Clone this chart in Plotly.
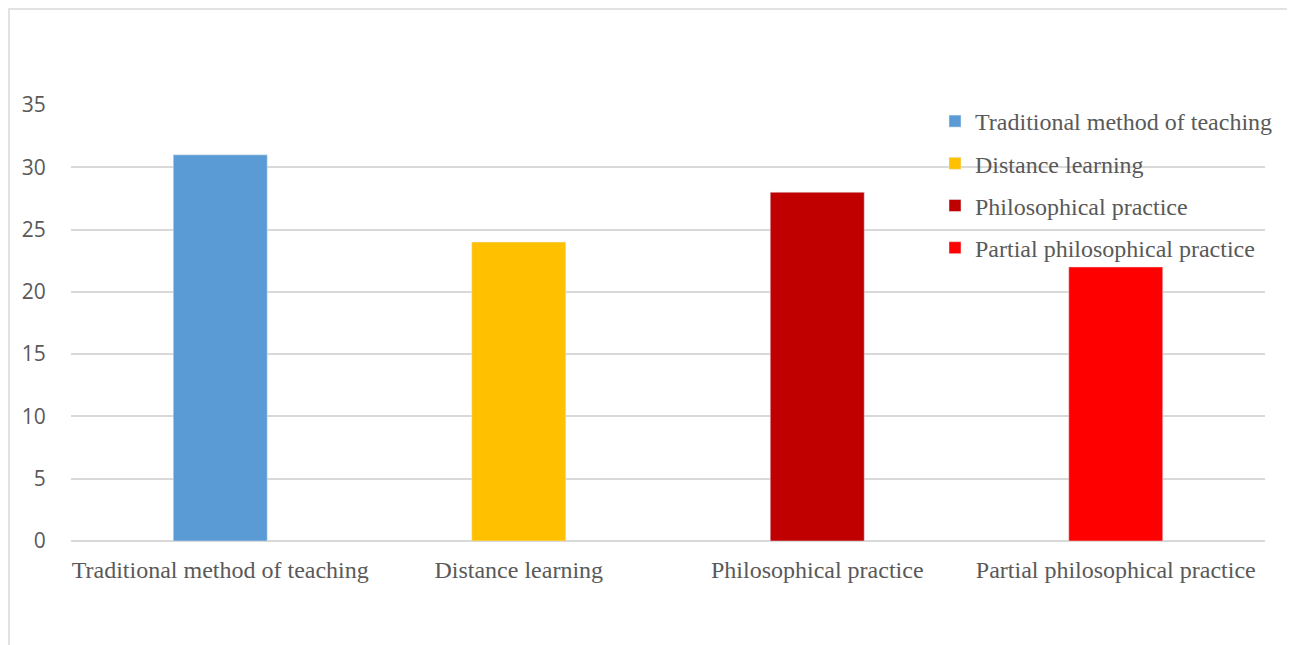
import plotly.graph_objects as go

categories = ["Traditional method of teaching", "Distance learning",
              "Philosophical practice", "Partial philosophical practice"]
values = [31, 24, 28, 22]
colors = ["#5B9BD5", "#FFC000", "#C00000", "#FF0000"]
y_ticks = [0, 5, 10, 15, 20, 25, 30, 35]

# the page places the figure at an 8px offset; work in screen pixels
OFF = 8
W, H = 1295, 645
SL, SR, ST, SB = 71, 1265, 105, 541   # plot area in screen pixels
L = SL - OFF
T = ST - OFF
R = W - (SR - OFF)
B = H - (SB - OFF)
pw = SR - SL
ph = SB - ST

def sx(px):
    return (px - SL) / pw

def sy(py):
    return 1 - (py - ST) / ph

fig = go.Figure()
for cat, val, col in zip(categories, values, colors):
    fig.add_trace(go.Bar(
        x=[cat], y=[val], name=cat, marker_color=col, width=0.315,
        legendgroup=cat, hoverinfo="x+y",
    ))

serif = "Liberation Serif, Times New Roman, serif"

fig.update_layout(
    width=W, height=H,
    margin=dict(l=L, r=R, t=T, b=B),
    barmode="overlay",
    plot_bgcolor="white", paper_bgcolor="white",
    font=dict(family=serif, size=24, color="#595959"),
    showlegend=True,
    legend=dict(
        x=sx(935), y=sy(99), xanchor="left", yanchor="top",
        bgcolor="rgba(0,0,0,0)", tracegroupgap=8,
        font=dict(family=serif, size=24, color="#595959"),
    ),
    xaxis=dict(
        type="category", categoryorder="array", categoryarray=categories,
        showgrid=False, showline=False, zeroline=False,
        ticks="outside", ticklen=7, tickcolor="rgba(0,0,0,0)",
        tickfont=dict(family=serif, size=24, color="#595959"),
        fixedrange=True,
    ),
    yaxis=dict(
        range=[0, 35], tickvals=y_ticks, ticktext=[str(v) for v in y_ticks],
        showgrid=True, gridcolor="#D9D9D9", gridwidth=1.5,
        zeroline=True, zerolinecolor="#D9D9D9", zerolinewidth=1.5,
        showline=False,
        ticks="outside", ticklen=20, tickcolor="rgba(0,0,0,0)",
        tickfont=dict(family="Open Sans, sans-serif", size=21, color="#595959"),
        fixedrange=True,
    ),
    shapes=[dict(
        type="rect", xref="paper", yref="paper",
        x0=sx(9), x1=sx(1293),
        y0=sy(700), y1=sy(9),
        line=dict(color="#D9D9D9", width=1.5), fillcolor="rgba(0,0,0,0)",
        layer="below",
    )],
)

fig.write_html("out.html")
